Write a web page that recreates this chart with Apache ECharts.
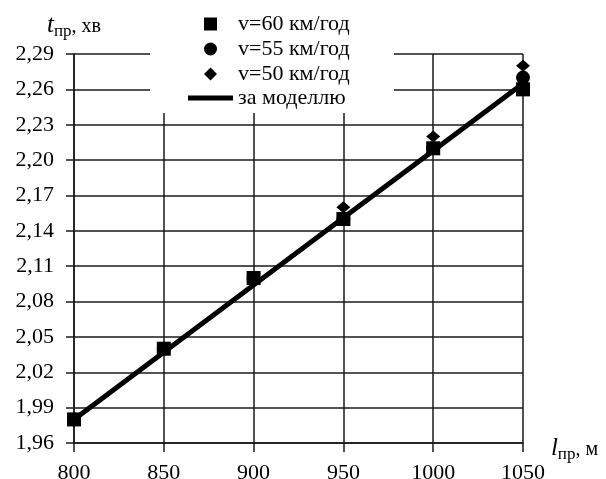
<!DOCTYPE html>
<html>
<head>
<meta charset="utf-8">
<script src="https://cdn.jsdelivr.net/npm/echarts@6/dist/echarts.min.js"></script>
<style>
  html, body { margin: 0; padding: 0; background: #fff; }
  #chart { width: 606px; height: 479px; }
</style>
</head>
<body>
<div id="chart"></div>
<script>
// distance, m
const lengths = [800, 850, 900, 950, 1000, 1050]
// time, min
const v60 = [1.98, 2.04, 2.10, 2.15, 2.21, 2.26]
const v55 = [1.98, 2.04, 2.10, 2.15, 2.21, 2.27]
const v50 = [1.98, 2.04, 2.10, 2.16, 2.22, 2.28]
const model = [1.98, 2.037, 2.094, 2.151, 2.208, 2.265]
const yTicks = [1.96, 1.99, 2.02, 2.05, 2.08, 2.11, 2.14, 2.17, 2.20, 2.23, 2.26, 2.29]

// ECharts counts ticks from a multiple of interval, so the y axis runs in
// hundredths above the first tick (1,96 -> 0, 2,29 -> 33)
const yBase = yTicks[0]
const toAxis = v => +((v - yBase) * 100).toFixed(3)
const fromAxis = v => (yBase + v / 100).toFixed(2).replace('.', ',')

const pairs = arr => lengths.map((x, i) => [x, toAxis(arr[i])])

const font = 'Liberation Serif'
const ink = '#000'
const gridInk = '#1a1a1a'

const nameRich = {
  i: { fontFamily: font, fontStyle: 'italic', fontSize: 25, color: ink },
  s: { fontFamily: font, fontSize: 17, color: ink, padding: [13, 0, 0, 0] },
  n: { fontFamily: font, fontSize: 20, color: ink, padding: [4, 0, 0, 0] }
}
const legendText = { fontFamily: font, fontSize: 22, color: ink }

const chart = echarts.init(document.getElementById('chart'))
chart.setOption({
  animation: false,
  textStyle: { fontFamily: font, color: ink },
  grid: { left: 74, right: 83, top: 54, bottom: 36, outerBoundsMode: 'none' },
  // white patch behind the legend, hides the grid there
  graphic: [{
    type: 'rect',
    left: 150,
    top: 0,
    z: 3,
    shape: { width: 244, height: 113 },
    style: { fill: '#fff' }
  }],
  legend: [
    {
      orient: 'vertical',
      left: 204,
      top: 13,
      padding: 0,
      itemWidth: 13,
      itemHeight: 13,
      itemGap: 3,
      textStyle: Object.assign({ padding: [0, 0, 0, 16] }, legendText),
      data: [
        { name: 'v=60 км/год', icon: 'rect' },
        { name: 'v=55 км/год', icon: 'circle' },
        { name: 'v=50 км/год', icon: 'diamond' }
      ]
    },
    {
      orient: 'vertical',
      left: 188,
      top: 87,
      padding: 0,
      itemWidth: 45,
      itemHeight: 5,
      textStyle: legendText,
      data: [{ name: 'за моделлю', icon: 'rect' }]
    }
  ],
  xAxis: {
    type: 'value',
    min: 800,
    max: 1050,
    interval: 50,
    name: '{i|l}{s|пр}{n|, м}',
    nameLocation: 'end',
    nameGap: 25,
    nameTextStyle: { rich: nameRich, padding: [10, 0, 0, 0] },
    axisLine: { lineStyle: { color: gridInk, width: 1.5 } },
    axisTick: { show: true, inside: false, length: 9, lineStyle: { color: gridInk, width: 1.5 } },
    axisLabel: { fontFamily: font, fontSize: 22, color: ink, margin: 19, formatter: v => String(v) },
    splitLine: { show: true, lineStyle: { color: gridInk, width: 1.5 } }
  },
  yAxis: {
    type: 'value',
    min: 0,
    max: 33,
    interval: 3,
    name: '{i|t}{s|пр}{n|, хв}',
    nameLocation: 'end',
    nameGap: 14,
    nameTextStyle: { rich: nameRich },
    axisLine: { show: true, lineStyle: { color: gridInk, width: 1.5 } },
    axisTick: { show: true, inside: false, length: 8, lineStyle: { color: gridInk, width: 1.5 } },
    axisLabel: { fontFamily: font, fontSize: 22, color: ink, margin: 20, formatter: fromAxis },
    splitLine: { show: true, lineStyle: { color: gridInk, width: 1.5 } }
  },
  series: [
    {
      name: 'за моделлю',
      type: 'line',
      data: pairs(model),
      showSymbol: false,
      symbol: 'none',
      lineStyle: { color: ink, width: 5 },
      itemStyle: { color: ink },
      z: 3
    },
    {
      name: 'v=50 км/год',
      type: 'scatter',
      data: pairs(v50),
      symbol: 'diamond',
      symbolSize: [14, 12],
      itemStyle: { color: ink, opacity: 1 },
      z: 4
    },
    {
      name: 'v=55 км/год',
      type: 'scatter',
      data: pairs(v55),
      symbol: 'circle',
      symbolSize: 14,
      itemStyle: { color: ink, opacity: 1 },
      z: 4
    },
    {
      name: 'v=60 км/год',
      type: 'scatter',
      data: pairs(v60),
      symbol: 'rect',
      symbolSize: 14,
      itemStyle: { color: ink, opacity: 1 },
      z: 4
    }
  ]
})
</script>
</body>
</html>
